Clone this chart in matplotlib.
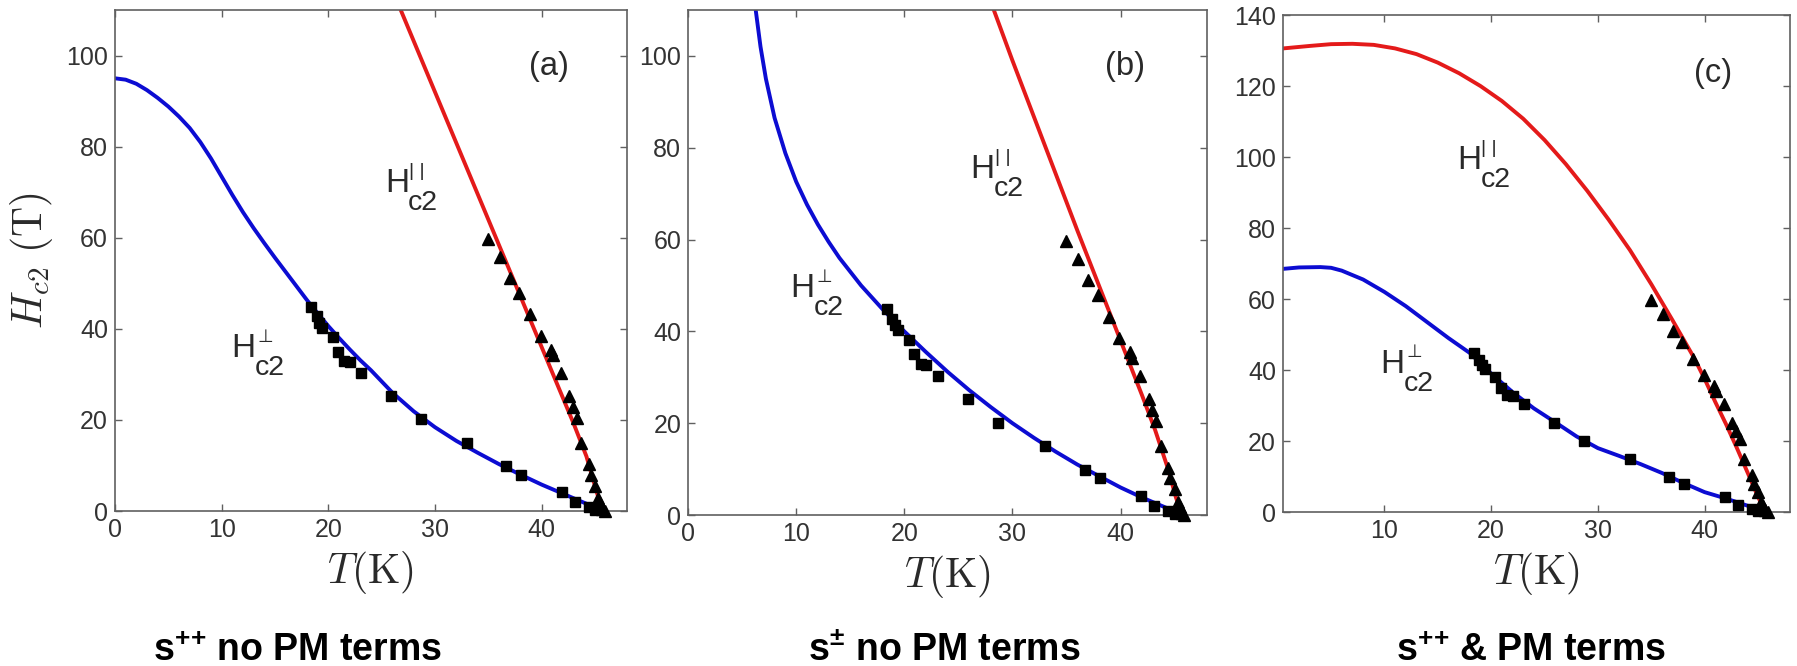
import matplotlib
matplotlib.use('Agg')
import matplotlib.pyplot as plt

plt.rcParams['font.family'] = ['Liberation Sans', 'DejaVu Sans']
plt.rcParams['mathtext.fontset'] = 'custom'
plt.rcParams['mathtext.rm'] = 'Liberation Sans'
plt.rcParams['mathtext.it'] = 'Liberation Sans:italic'
plt.rcParams['mathtext.bf'] = 'Liberation Sans:bold'
plt.rcParams['mathtext.sf'] = 'Liberation Sans'
plt.rcParams['mathtext.fallback'] = 'stixsans'

# ---------------- experimental data (same in every panel) ----------------
perp_T = [18.4, 18.9, 19.1, 19.4, 20.4, 20.9, 21.5, 22.0, 23.1, 25.9, 28.7,
          33.0, 36.7, 38.1, 41.9, 43.1, 44.4, 45.0]
perp_H = [44.9, 42.8, 41.3, 40.2, 38.1, 35.0, 33.0, 32.7, 30.3, 25.2, 20.1,
          15.0, 9.9, 8.0, 4.1, 1.9, 0.9, 0.3]
par_T = [35.0, 36.1, 37.0, 37.9, 38.9, 39.9, 40.9, 41.1, 41.8, 42.6, 42.9,
         43.3, 43.7, 44.4, 44.6, 45.0, 45.3, 45.5, 45.7, 45.9]
par_H = [59.7, 55.8, 51.1, 47.9, 43.2, 38.5, 35.4, 34.2, 30.3, 25.2, 22.9,
         20.5, 15.0, 10.3, 8.0, 5.6, 2.9, 1.7, 0.5, 0.0]

# ---------------- model curves ----------------
# (a) s++ no PM terms
a_perp_T = [0, 1, 2, 3, 4, 5, 6, 7, 8, 9, 10, 11, 12, 13, 14, 15, 16, 17, 18,
            19, 20, 21, 22, 23, 24, 26, 28, 30, 32, 34, 36, 38, 40, 42, 43,
            44, 45, 45.8]
a_perp_H = [95.0, 94.7, 93.8, 92.4, 90.7, 88.8, 86.6, 84.1, 81.0, 77.4, 73.4,
            69.4, 65.6, 62.1, 58.8, 55.6, 52.5, 49.4, 46.3, 43.4, 40.6, 38.0,
            35.5, 33.1, 30.9, 26.0, 21.9, 18.4, 15.4, 12.8, 10.3, 8.0, 5.8,
            3.8, 2.8, 1.8, 0.8, 0.0]
a_par_T = [26.7, 30.0, 33.0, 36.0, 39.0, 42.0, 43.0, 44.2, 45.0, 45.5, 45.8]
a_par_H = [110.5, 92.0, 75.2, 58.4, 41.6, 24.8, 19.2, 12.0, 5.5, 1.5, 0.0]

# (b) s+- no PM terms
b_perp_T = [6.2, 6.7, 7.2, 8, 9, 10, 11, 12, 13, 14, 16, 18, 20, 22, 24, 26,
            28, 30, 32, 34, 36, 38, 40, 42, 44, 45.2, 45.8]
b_perp_H = [111.0, 102.0, 95.0, 86.5, 78.8, 72.6, 67.6, 63.3, 59.5, 56.0,
            50.0, 44.8, 40.0, 35.5, 31.2, 27.2, 23.5, 20.0, 16.8, 13.8, 11.0,
            8.5, 6.0, 3.8, 1.8, 0.6, 0.0]
b_par_T = [28.2, 30.0, 33.0, 36.0, 39.0, 42.0, 43.2, 44.4, 45.1, 45.5, 45.8]
b_par_H = [110.5, 99.0, 80.5, 62.0, 44.0, 26.0, 18.5, 10.0, 4.0, 1.2, 0.0]

# (c) s++ & PM terms
c_perp_T = [0.5, 2, 4, 5, 6, 8, 10, 12, 14, 16, 18, 20, 22, 24, 26, 28, 30,
            32, 34, 36, 38, 40, 42, 44, 45, 45.8]
c_perp_H = [68.5, 68.9, 69.0, 68.8, 68.0, 65.5, 62.0, 58.0, 53.5, 49.0, 44.8,
            39.0, 33.8, 29.2, 25.3, 21.3, 18.0, 15.8, 13.5, 11.0, 8.2, 5.6,
            3.8, 1.8, 0.8, 0.0]
c_par_T = [0.5, 3, 5, 7, 9, 11, 13, 15, 17, 19, 21, 23, 25, 27, 29, 31, 33,
           35, 37, 39, 40, 41, 42, 43, 44, 45, 45.7]
c_par_H = [130.6, 131.3, 131.8, 131.9, 131.6, 130.6, 129.0, 126.6, 123.6,
           120.0, 115.8, 110.8, 104.8, 98.0, 90.5, 82.4, 73.8, 64.2, 54.0,
           43.5, 37.5, 31.0, 24.8, 18.2, 11.3, 4.3, 0.0]

panel_tags = ['(a)', '(b)', '(c)']
bottom_titles = [r'$\mathbf{s^{+\!+}}\,$no PM terms',
                 r'$\mathbf{s^{\pm}}$ no PM terms',
                 r'$\mathbf{s^{+\!+}}\,$& PM terms']

BLUE = '#0c0cd2'
RED = '#e41a1a'
GRAY = '#606060'
TXT = '#2a2a2a'

fig = plt.figure(figsize=(17.97, 6.66), dpi=100)

rects = [[0.0640, 0.2327, 0.2849, 0.7523],
         [0.3829, 0.2267, 0.2888, 0.7583],
         [0.7140, 0.2312, 0.2821, 0.7462]]
xlims = [(0, 48), (0, 48), (0.5, 48)]
ylims = [(0, 110), (0, 110), (0, 140)]
yticks = [range(0, 101, 20), range(0, 101, 20), range(0, 141, 20)]
xticks = [range(0, 41, 10), range(0, 41, 10), range(10, 41, 10)]
curves = [(a_perp_T, a_perp_H, a_par_T, a_par_H),
          (b_perp_T, b_perp_H, b_par_T, b_par_H),
          (c_perp_T, c_perp_H, c_par_T, c_par_H)]
tag_pos = [(40.7, 97.5), (40.4, 97.7), (40.8, 123.4)]
par_lab = [(25.3, 70.0), (26.1, 73.5), (16.8, 96.7)]
perp_lab = [(10.9, 33.8), (9.45, 47.5), (9.6, 39.3)]
title_x = [0.1653, 0.5253, 0.852]


def h_label(ax, xy, sup, sup_size, sup_dx, sup_dy):
    kw = dict(color=TXT, ha='left', va='baseline', annotation_clip=False,
              textcoords='offset points')
    ax.annotate('H', xy, xytext=(0, 0), fontsize=24, **kw)
    ax.annotate('c2', xy, xytext=(16.8, -13.0), fontsize=20.5, **kw)
    ax.annotate(sup, xy, xytext=(sup_dx, sup_dy), fontsize=sup_size,
                family=['Liberation Sans', 'DejaVu Sans'], **kw)


for i in range(3):
    ax = fig.add_axes(rects[i])
    pT, pH, qT, qH = curves[i]
    ax.plot(pT, pH, color=BLUE, lw=2.8, zorder=2, solid_joinstyle='round')
    ax.plot(qT, qH, color=RED, lw=2.8, zorder=2, solid_joinstyle='round')
    ax.plot(perp_T, perp_H, 's', color='black', ms=7, zorder=3, clip_on=False)
    ax.plot(par_T, par_H, '^', color='black', ms=8.5, zorder=3, clip_on=False)
    ax.set_xlim(*xlims[i])
    ax.set_ylim(*ylims[i])
    ax.set_xticks(list(xticks[i]))
    ax.set_yticks(list(yticks[i]))
    ax.tick_params(direction='in', length=5, width=1, top=True, right=True,
                   labelsize=18, labelcolor='#333333', color=GRAY, pad=5)
    for s in ax.spines.values():
        s.set_color(GRAY)
        s.set_linewidth(1.2)
    ax.text(*tag_pos[i], panel_tags[i], fontsize=23.5, color=TXT,
            ha='center', va='center')
    h_label(ax, par_lab[i], '| |', 14, 17.5, 11.5)
    h_label(ax, perp_lab[i], '\u22a5', 13, 19.0, 11.0)
    ax.set_xlabel(r'$T(\mathrm{K})$', fontsize=30, math_fontfamily='cm',
                  color=TXT)
    ax.xaxis.set_label_coords(0.5, -0.076)
    if i == 0:
        ax.set_ylabel(r'$H_{c2}\ (\mathrm{T})$', fontsize=30,
                      math_fontfamily='cm', color=TXT)
        ax.yaxis.set_label_coords(-0.117, 0.5)
    fig.text(title_x[i], 0.0075, bottom_titles[i], fontsize=27,
             fontweight='bold', ha='center', va='baseline', color='black')

fig.savefig('out.png', dpi=100, facecolor='white')
